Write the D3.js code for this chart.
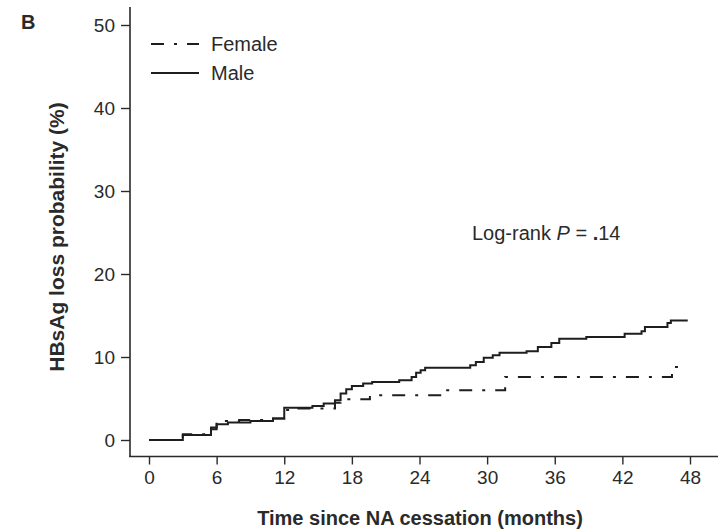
<!DOCTYPE html>
<html>
<head>
<meta charset="utf-8">
<script src="https://cdn.jsdelivr.net/npm/d3@7"></script>
<style>
  body { margin: 0; background: #fff; }
  text { font-family: "Liberation Sans", Arial, sans-serif; fill: #2a2a2a; }
</style>
</head>
<body>
<div id="chart"></div>
<script>
// Kaplan-Meier step data (months, cumulative %)
const femaleTimes  = [0, 3, 5.5, 6, 8, 11, 12, 13, 16.5, 17, 19.6, 26, 31.6, 46.4, 47.5];
const femaleValues = [0, 0.7, 1.5, 2.3, 2.4, 2.6, 3.6, 3.8, 4.5, 4.9, 5.4, 6.0, 7.6, 8.8, 8.8];

const maleTimes  = [0, 3, 5.5, 6, 7, 9, 11, 12, 14.5, 15.5, 16.5, 17, 17.5, 18, 19, 19.8,
                    22.2, 23.3, 23.7, 24.1, 24.5, 28.5, 29, 29.7, 30.5, 31.1, 33.5, 34.5,
                    35.7, 36.4, 38.8, 42.2, 43.7, 44, 46, 46.3, 47.8];
const maleValues = [0, 0.6, 1.3, 1.9, 2.1, 2.3, 2.6, 3.9, 4.1, 4.4, 4.8, 5.6, 6.1, 6.5, 6.8, 7.0,
                    7.2, 7.6, 8.1, 8.4, 8.7, 9.0, 9.4, 9.9, 10.2, 10.5, 10.7, 11.2,
                    11.7, 12.2, 12.4, 12.8, 13.1, 13.6, 14.1, 14.4, 14.4];

const xTicks = [0, 6, 12, 18, 24, 30, 36, 42, 48];
const yTicks = [0, 10, 20, 30, 40, 50];

const seriesNames = ["Female", "Male"];

const width = 726, height = 531;

const svg = d3.select("#chart")
  .append("svg")
  .attr("width", width)
  .attr("height", height);

const x = d3.scaleLinear().domain([0, 48]).range([149, 690]);
const y = d3.scaleLinear().domain([0, 50]).range([440, 25]);

const axisColor = "#2a2a2a";
const fontFam = "Liberation Sans, Arial, sans-serif";

// frame lines (L-shaped)
svg.append("line")
  .attr("x1", 130).attr("x2", 130).attr("y1", 7).attr("y2", 457)
  .attr("stroke", axisColor).attr("stroke-width", 1.6);
svg.append("line")
  .attr("x1", 129.2).attr("x2", 718).attr("y1", 456.5).attr("y2", 456.5)
  .attr("stroke", axisColor).attr("stroke-width", 1.6);

// y axis
const yAxis = svg.append("g")
  .attr("transform", "translate(130,0)")
  .call(d3.axisLeft(y).tickValues(yTicks).tickSize(9).tickPadding(6));
yAxis.select(".domain").remove();
yAxis.selectAll("line").attr("stroke", axisColor).attr("stroke-width", 1.4);
yAxis.selectAll("text")
  .style("font-size", "19px")
  .style("font-family", fontFam)
  .attr("fill", "#2a2a2a");

// x axis
const xAxis = svg.append("g")
  .attr("transform", "translate(0,456.5)")
  .call(d3.axisBottom(x).tickValues(xTicks).tickSize(8).tickPadding(6));
xAxis.select(".domain").remove();
xAxis.selectAll("line").attr("stroke", axisColor).attr("stroke-width", 1.4);
xAxis.selectAll("text")
  .style("font-size", "19px")
  .style("font-family", fontFam)
  .attr("fill", "#2a2a2a");

// axis titles
svg.append("text")
  .attr("x", 420).attr("y", 525)
  .attr("text-anchor", "middle")
  .style("font-size", "20px").attr("font-weight", "bold")
  .text("Time since NA cessation (months)");

svg.append("text")
  .attr("transform", "translate(64,237) rotate(-90)")
  .attr("text-anchor", "middle")
  .style("font-size", "21px").attr("font-weight", "bold")
  .text("HBsAg loss probability (%)");

// panel letter
svg.append("text")
  .attr("x", 21).attr("y", 29)
  .style("font-size", "20px").attr("font-weight", "bold")
  .text("B");

// curves
const line = d3.line()
  .x(d => x(d[0]))
  .y(d => y(d[1]))
  .curve(d3.curveStepAfter);

const femaleData = d3.zip(femaleTimes, femaleValues);
const maleData = d3.zip(maleTimes, maleValues);

const dashFemale = "13,10,3,10";

svg.append("path")
  .datum(maleData)
  .attr("fill", "none")
  .attr("stroke", "#1e1e1e")
  .attr("stroke-width", 2)
  .attr("d", line);

svg.append("path")
  .datum(femaleData)
  .attr("fill", "none")
  .attr("stroke", "#1e1e1e")
  .attr("stroke-width", 2)
  .attr("stroke-dasharray", dashFemale)
  .attr("d", line);

// legend
const legend = svg.append("g");
seriesNames.forEach((name, i) => {
  const ly = 44 + i * 29;
  legend.append("line")
    .attr("x1", 151).attr("x2", 199)
    .attr("y1", ly).attr("y2", ly)
    .attr("stroke", "#1e1e1e").attr("stroke-width", 2)
    .attr("stroke-dasharray", name === "Female" ? dashFemale : null);
  legend.append("text")
    .attr("x", 211).attr("y", ly + 7)
    .style("font-size", "20px")
    .text(name);
});

// annotation
const ann = svg.append("text")
  .attr("x", 472).attr("y", 240)
  .style("font-size", "20px");
ann.append("tspan").text("Log-rank ");
ann.append("tspan").attr("font-style", "italic").text("P");
ann.append("tspan").text(" = ");
ann.append("tspan").attr("font-weight", "bold").text(".");
ann.append("tspan").text("14");
</script>
</body>
</html>
